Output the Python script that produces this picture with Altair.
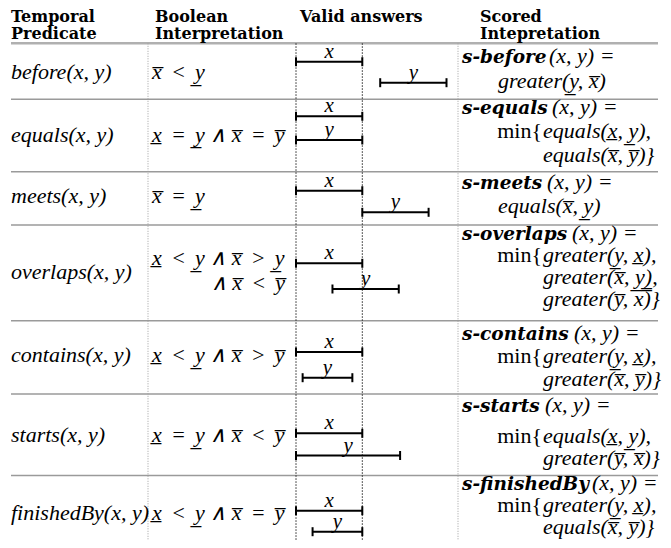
import altair as alt
import pandas as pd

# ---------------- content ----------------
XL, XU, XUU = "x\u0332", "x\u0305", "x\u033F"
YL, YU = "y\u0332", "y\u0305"
R = "\u2004\u200A"   # math space around relations
A = "\u2005"         # math space around the wedge

headers = [["Temporal", "Predicate"], ["Boolean", "Interpretation"],
           ["Valid answers"], ["Scored", "Intepretation"]]

predicate_labels = ["before(x, y)", "equals(x, y)", "meets(x, y)", "overlaps(x, y)",
                    "contains(x, y)", "starts(x, y)", "finishedBy(x, y)"]

boolean_lines = [
    [f"{XU}{R}<{R}{YL}"],
    [f"{XL}{R}={R}{YL}{A}\u2227{A}{XU}{R}={R}{YU}"],
    [f"{XU}{R}={R}{YL}"],
    [f"{XL}{R}<{R}{YL}{A}\u2227{A}{XU}{R}>{R}{YL}", f"\u2227{A}{XU}{R}<{R}{YU}"],
    [f"{XL}{R}<{R}{YL}{A}\u2227{A}{XU}{R}>{R}{YU}"],
    [f"{XL}{R}={R}{YL}{A}\u2227{A}{XU}{R}<{R}{YU}"],
    [f"{XL}{R}<{R}{YL}{A}\u2227{A}{XU}{R}={R}{YU}"],
]

scored_names = ["s-before", "s-equals", "s-meets", "s-overlaps",
                "s-contains", "s-starts", "s-finishedBy"]
scored_args = "(x, y) ="
scored_uses_min = [False, True, False, True, True, True, True]
scored_terms = [
    [f"greater({YL}, {XU})"],
    [f"equals({XL}, {YL}),", f"equals({XU}, {YU})}}"],
    [f"equals({XU}, {YL})"],
    [f"greater({YL}, {XL}),", f"greater({XU}, {YL}),", f"greater({YU}, {XUU})}}"],
    [f"greater({YL}, {XL}),", f"greater({XU}, {YU})}}"],
    [f"equals({XL}, {YL}),", f"greater({YU}, {XU})}}"],
    [f"greater({YL}, {XL}),", f"equals({XU}, {YU})}}"],
]

# valid answers: interval x is always [0, 1]; interval y varies
x_start = [0, 0, 0, 0, 0, 0, 0]
x_end = [1, 1, 1, 1, 1, 1, 1]
y_start = [1.27, 0, 1.0, 0.55, 0.1, 0, 0.25]
y_end = [2.27, 1, 2.0, 1.55, 0.85, 1.57, 1.0]

# ---------------- layout (page pixels) ----------------
row_tops = [43.3, 99.3, 171.7, 225, 320.7, 394, 475.5]
table_bottom = 540
header_baselines = [21.5, 38.5]
header_x = [11, 155, 300, 480]
label_x, bool_x, bool_right = 11, 152, 285
label_baselines = [79, 141.7, 203, 279, 362, 442, 520]
bool_baselines = [[79], [141.7], [203], [265, 290], [362], [442], [520]]
scored_baselines = [[63, 88], [114, 138, 162], [189, 213], [240, 262, 284, 306],
                    [340, 363, 386], [412, 443, 465], [490, 512, 534]]
scored_x, paren_x = 462, [549, 552, 547, 572, 574, 545, 592]
plain_x, min_right, term_x = 498, 542, 543
bar_x_pos = [61.7, 116.3, 190.7, 263.3, 352, 433.3, 510.7]
bar_y_pos = [82.7, 140, 212.3, 289, 377.7, 455.5, 531.7]
col_lines = [148, 458]
sep_x = [11, 658]
PAGE_X, PAGE_Y = [8, 663], [8, 540]
U0, U1 = (PAGE_X[0] - 296) / 66.3, (PAGE_X[1] - 296) / 66.3

# ---------------- build tables ----------------
rows = []
for ci, hl in enumerate(headers):
    for li, t in enumerate(hl):
        rows.append(dict(px=header_x[ci], py=header_baselines[li], t=t, s="head"))
for i in range(7):
    rows.append(dict(px=label_x, py=label_baselines[i], t=predicate_labels[i], s="it_l"))
    for li, t in enumerate(boolean_lines[i]):
        if li == 0:
            rows.append(dict(px=bool_x, py=bool_baselines[i][li], t=t, s="it_l"))
        else:
            rows.append(dict(px=bool_right, py=bool_baselines[i][li], t=t, s="it_r"))
    sb = scored_baselines[i]
    rows.append(dict(px=scored_x, py=sb[0], t=scored_names[i], s="bi_l"))
    rows.append(dict(px=paren_x[i], py=sb[0], t=scored_args, s="it_l"))
    for li, t in enumerate(scored_terms[i]):
        if scored_uses_min[i]:
            if li == 0:
                rows.append(dict(px=min_right, py=sb[1], t="min{", s="up_r"))
            rows.append(dict(px=term_x, py=sb[1 + li], t=t, s="it_l"))
        else:
            rows.append(dict(px=plain_x, py=sb[1 + li], t=t, s="it_l"))
texts = pd.DataFrame(rows)

seps = pd.DataFrame(dict(x1=sep_x[0], x2=sep_x[1], y=row_tops[1:]))
top_rule = pd.DataFrame(dict(x1=[sep_x[0]], x2=[sep_x[1]], y=[row_tops[0]]))
vcols = pd.DataFrame(dict(x=col_lines, y1=row_tops[0], y2=table_bottom))
vdash = pd.DataFrame(dict(u=[x_start[0], x_end[0]], y1=row_tops[0], y2=table_bottom))

bars, ends, labs = [], [], []
for i in range(7):
    for name, s, e, yb in (("x", x_start[i], x_end[i], bar_x_pos[i]),
                           ("y", y_start[i], y_end[i], bar_y_pos[i])):
        bars.append(dict(s=s, e=e, yb=yb))
        ends += [dict(u=s, yb=yb), dict(u=e, yb=yb)]
        labs.append(dict(u=(s + e) / 2, yb=yb - 4, t=name))
bars, ends, labs = pd.DataFrame(bars), pd.DataFrame(ends), pd.DataFrame(labs)

# ---------------- scales ----------------
def PX(f):
    return alt.X(f"{f}:Q", scale=alt.Scale(domain=PAGE_X, nice=False, zero=False), axis=None)

def IX(f):
    return alt.X(f"{f}:Q", scale=alt.Scale(domain=[U0, U1], nice=False, zero=False), axis=None)

def PY(f):
    return alt.Y(f"{f}:Q", scale=alt.Scale(domain=PAGE_Y, nice=False, zero=False, reverse=True), axis=None)

SERIF = "Liberation Serif"

def text_layer(style, **mk):
    return alt.Chart(texts).transform_filter(alt.datum.s == style).mark_text(
        baseline="alphabetic", color="black", **mk
    ).encode(x=PX("px"), y=PY("py"), text="t:N")

layers = [
    alt.Chart(top_rule).mark_rule(color="#b0b0b0", strokeWidth=2.5).encode(x=PX("x1"), x2="x2:Q", y=PY("y")),
    alt.Chart(seps).mark_rule(color="#9a9a9a", strokeWidth=1.5).encode(x=PX("x1"), x2="x2:Q", y=PY("y")),
    alt.Chart(vcols).mark_rule(color="#a0a0a0", strokeWidth=1, strokeDash=[1, 1.5]).encode(x=PX("x"), y=PY("y1"), y2="y2:Q"),
    alt.Chart(vdash).mark_rule(color="#222222", strokeWidth=1, strokeDash=[1.5, 1.5]).encode(x=IX("u"), y=PY("y1"), y2="y2:Q"),
    alt.Chart(bars).mark_rule(color="black", strokeWidth=2).encode(x=IX("s"), x2="e:Q", y=PY("yb")),
    alt.Chart(ends).mark_rule(color="black", strokeWidth=2, yOffset=-4.5, y2Offset=4.5).encode(x=IX("u"), y=PY("yb"), y2="yb:Q"),
    alt.Chart(labs).mark_text(baseline="alphabetic", align="center", font=SERIF, fontStyle="italic",
                              fontSize=21, color="black").encode(x=IX("u"), y=PY("yb"), text="t:N"),
    text_layer("head", align="left", font="DejaVu Serif", fontWeight="bold", fontSize=16),
    text_layer("it_l", align="left", font=SERIF, fontStyle="italic", fontSize=22),
    text_layer("it_r", align="right", font=SERIF, fontStyle="italic", fontSize=22),
    text_layer("up_r", align="right", font=SERIF, fontSize=22),
    text_layer("bi_l", align="left", font="DejaVu Serif", fontStyle="italic", fontWeight="bold", fontSize=18.5),
]

chart = alt.layer(*layers).resolve_scale(x="independent").properties(
    width=PAGE_X[1] - PAGE_X[0], height=PAGE_Y[1] - PAGE_Y[0], padding=0,
    background="white", autosize=alt.AutoSizeParams(type="none")
).configure_view(stroke=None)

chart.save("out.html", embed_options={"renderer": "svg", "actions": False})
